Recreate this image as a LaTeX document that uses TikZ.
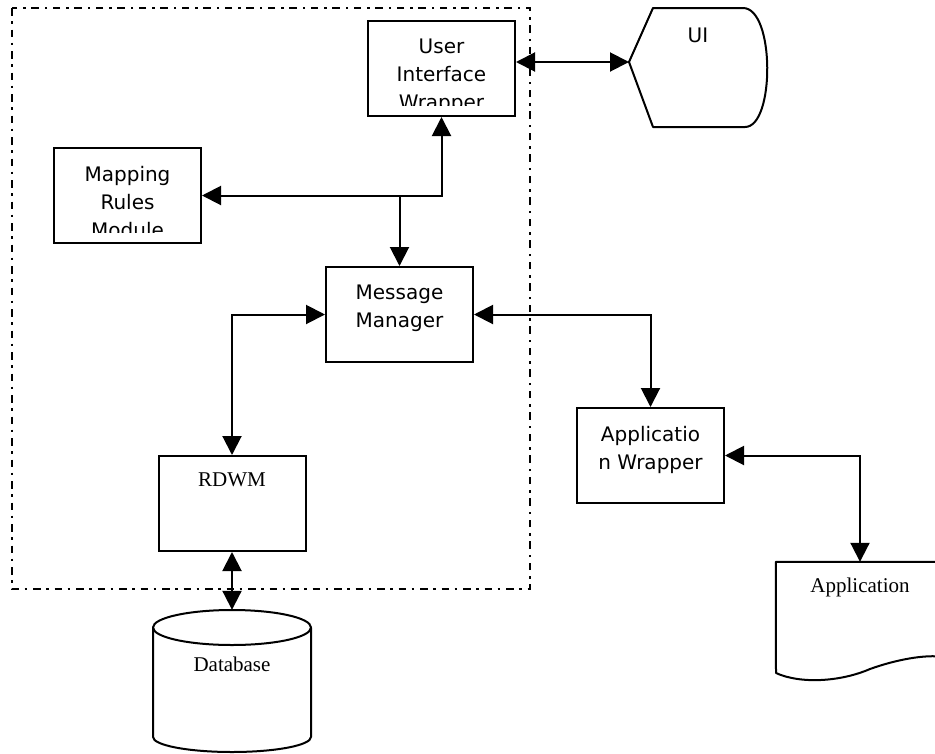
\documentclass[tikz,border=0pt]{standalone}
\usepackage{fontspec}
\usepackage{tikz}
\usetikzlibrary{arrows.meta, positioning}
\newfontfamily\uisans{DejaVu Sans}
\newfontfamily\uiserif{Liberation Serif}
\tikzstyle{block} = [rectangle, draw=black, line width=2pt, minimum width=147pt, minimum height=95pt, inner sep=0pt]
\tikzstyle{ghost} = [rectangle, inner sep=0pt]
\tikzstyle{sanstext} = [font=\uisans\fontsize{20}{28}\selectfont, align=center, inner sep=0pt]
\tikzstyle{seriftext} = [font=\uiserif\fontsize{21}{25}\selectfont, inner sep=0pt, anchor=base]
\tikzstyle{outline} = [line width=2pt, line join=round]
\tikzstyle{frame} = [line width=2pt, dash pattern=on 7.5pt off 5.5pt on 2.5pt off 6pt]
\tikzstyle{arrow} = [line width=2pt, ->, >={Triangle[length=19pt, width=19pt]}]
\tikzstyle{biarrow} = [arrow, <->]

\begin{document}
\begin{tikzpicture}[x=1pt, y=-1pt]
    \useasboundingbox (0,0) rectangle (935,753);
    % wrapper layer
    \draw [frame] (12,8) rectangle (530,589);

    \node (uiw) [block] at (441.5,68.5) {};
    \node (map) [block] at (127.5,195.5) {};
    \node (mm) [block] at (399.5,314.5) {};
    \node (rdwm) [block] at (232,503.5) {};
    \node (aw) [block] at (650.5,455.5) {};
    \node (ui) [ghost, minimum width=138pt, minimum height=119pt] at (698,67.5) {};
    \node (db) [ghost, minimum width=158pt, minimum height=142pt] at (232,681) {};
    \node (app) [ghost, minimum width=168pt, minimum height=111pt] at (860,617.5) {};
    \coordinate (uitip) at (629,62);

    % outer shapes
    \draw [outline] (uitip) -- (653,8) -- (743,8) .. controls (775,8) and (775,127) .. (745,127) -- (653,127) -- cycle;
    \draw [outline] (153,627.5) -- (153,737) arc[start angle=180, end angle=360, x radius=79pt, y radius=15pt] -- (311,627.5);
    \draw [outline] (232,627.5) ellipse [x radius=79pt, y radius=17.5pt];
    \draw [outline] (app.north east) -- (app.north west) -- (776,673) .. controls (800,684) and (840,682) .. (870,669) .. controls (895,660) and (925,654) .. (944,657);

    % texts
    \begin{scope}
        \clip (uiw.north west) rectangle ([yshift=12pt]uiw.south east);
        \node (uiwtext) [sanstext, below=19pt of uiw.north] {User\\Interface\\Wrapper};
    \end{scope}
    \begin{scope}
        \clip (map.north west) rectangle ([yshift=12pt]map.south east);
        \node (maptext) [sanstext, below=19pt of map.north] {Mapping\\Rules\\Module};
    \end{scope}
    \node (mmtext) [sanstext, below=19pt of mm.north] {Message\\Manager};
    \node (awtext) [sanstext, below=19pt of aw.north] {Applicatio\\n Wrapper};
    \node (uitext) [sanstext, anchor=base] at ([yshift=-35pt]ui.north) {UI};
    \node (rdwmtext) [seriftext] at ([yshift=-31pt]rdwm.north) {RDWM};
    \node (dbtext) [seriftext] at ([yshift=-62pt]db.north) {Database};
    \node (apptext) [seriftext] at ([yshift=-31pt]app.north) {Application};

    % connectors
    \draw [biarrow] (uiw.east |- uitip) -- (uitip);
    \draw [biarrow] (map.east) -| (uiw.south);
    \draw [arrow] (mm.north |- map.east) -- (mm.north);
    \draw [biarrow] (mm.west) -| (rdwm.north);
    \draw [biarrow] (mm.east) -| (aw.north);
    \draw [biarrow] (aw.east) -| (app.north);
    \draw [biarrow] (rdwm.south) -- (db.north);
\end{tikzpicture}
\end{document}
